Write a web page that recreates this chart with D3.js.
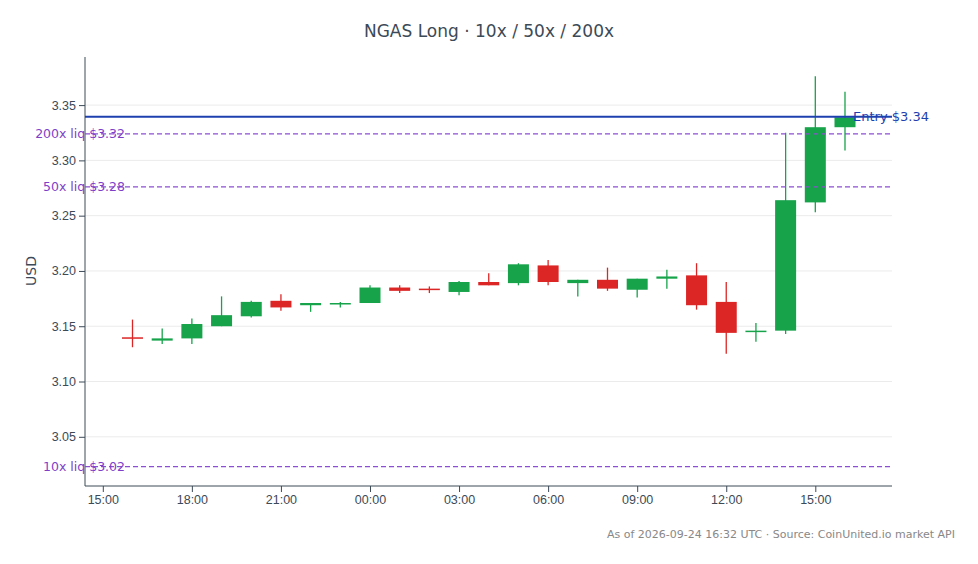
<!DOCTYPE html><html><head><meta charset="utf-8"><script src="https://cdn.jsdelivr.net/npm/d3@7"></script>
<style>body{margin:0;background:#fff;font-family:"DejaVu Sans",sans-serif}</style></head><body><svg id="c" width="978" height="564"></svg>
<script>
const hours=["16:00","17:00","18:00","19:00","20:00","21:00","22:00","23:00","00:00","01:00","02:00","03:00","04:00","05:00","06:00","07:00","08:00","09:00","10:00","11:00","12:00","13:00","14:00","15:00","16:00"];
const opens=[3.140,3.137,3.139,3.150,3.159,3.173,3.169,3.170,3.171,3.185,3.184,3.181,3.190,3.189,3.205,3.189,3.192,3.183,3.193,3.196,3.172,3.145,3.146,3.262,3.330];
const closes=[3.139,3.139,3.152,3.160,3.172,3.167,3.171,3.171,3.185,3.182,3.183,3.190,3.187,3.206,3.190,3.192,3.184,3.193,3.195,3.169,3.144,3.146,3.264,3.330,3.339];
const highs=[3.156,3.148,3.157,3.177,3.173,3.179,3.171,3.172,3.187,3.187,3.186,3.191,3.198,3.207,3.210,3.192,3.203,3.193,3.201,3.207,3.190,3.153,3.325,3.376,3.362];
const lows=[3.131,3.134,3.134,3.150,3.158,3.164,3.163,3.167,3.171,3.180,3.180,3.178,3.187,3.187,3.187,3.177,3.182,3.176,3.184,3.165,3.125,3.136,3.143,3.253,3.309];
const levels=[{label:"Entry $3.34",v:3.3395,kind:"entry"},{label:"200x liq $3.32",v:3.324,kind:"liq"},{label:"50x liq $3.28",v:3.276,kind:"liq"},{label:"10x liq $3.02",v:3.023,kind:"liq"}];
const yTicks=[3.05,3.10,3.15,3.20,3.25,3.30,3.35];
const xTickLabels=["15:00","18:00","21:00","00:00","03:00","06:00","09:00","12:00","15:00"];

const svg=d3.select("#c");
const L=85,R=892,T=57,B=486;
const t0=new Date(Date.UTC(2026,8,23,16));
const times=hours.map((h,i)=>new Date(t0.getTime()+i*3600e3));
const x=d3.scaleUtc().domain([new Date(Date.UTC(2026,8,23,14,24)),new Date(Date.UTC(2026,8,24,17,35))]).range([L,R]);
const y=d3.scaleLinear().domain([3.0055,3.3935]).range([B,T]);
svg.append("g").selectAll("line").data(yTicks).join("line").attr("x1",L).attr("x2",R).attr("y1",d=>y(d)).attr("y2",d=>y(d)).attr("stroke","#ebebeb");
const tickTimes=xTickLabels.map((s,i)=>new Date(Date.UTC(2026,8,23,15)+i*3*3600e3));
const xa=svg.append("g").attr("transform",`translate(0,${B})`).call(d3.axisBottom(x).tickValues(tickTimes).tickFormat((d,i)=>xTickLabels[i]).tickSizeOuter(0));
const ya=svg.append("g").attr("transform",`translate(${L},0)`).call(d3.axisLeft(y).tickValues(yTicks).tickFormat(d3.format(".2f")).tickSizeOuter(0));
[xa,ya].forEach(a=>{a.selectAll("path,line").attr("stroke","#3c4a57");a.selectAll("text").attr("fill","#3c4a57").attr("font-size",12.5);});
ya.select("path").attr("d",`M0,${T}V${B}`);
xa.select("path").attr("d",`M0,0H${R-L}`).attr("transform",`translate(${L},0)`);
const w=21;
const g=svg.append("g");
times.forEach((t,i)=>{const c=closes[i]>=opens[i]?"#16a34a":"#dc2626";const cx=x(t);
g.append("line").attr("x1",cx).attr("x2",cx).attr("y1",y(highs[i])).attr("y2",y(lows[i])).attr("stroke",c).attr("stroke-width",1.3);
const y1=y(Math.max(opens[i],closes[i])),y2=y(Math.min(opens[i],closes[i]));
g.append("rect").attr("x",cx-w/2).attr("width",w).attr("y",y1).attr("height",Math.max(1.5,y2-y1)).attr("fill",c);});
levels.forEach(l=>{const yy=y(l.v);
if(l.kind==="entry"){svg.append("line").attr("x1",L).attr("x2",R).attr("y1",yy).attr("y2",yy).attr("stroke","#1e40af").attr("stroke-width",2);
svg.append("text").attr("x",853).attr("y",yy+4).attr("fill","#1e40af").attr("font-size",13).text(l.label);}
else{svg.append("line").attr("x1",L).attr("x2",R).attr("y1",yy).attr("y2",yy).attr("stroke","#8b4fd1").attr("stroke-width",1.3).attr("stroke-dasharray","5,3");
svg.append("text").attr("x",125).attr("y",yy+4).attr("text-anchor","end").attr("fill","#7e3fc8").attr("font-size",12.5).text(l.label);}});
svg.append("text").attr("x",489).attr("y",37).attr("text-anchor","middle").attr("fill","#3c4a57").attr("font-size",17).text("NGAS Long · 10x / 50x / 200x");
svg.append("text").attr("transform","translate(36,271) rotate(-90)").attr("text-anchor","middle").attr("fill","#3c4a57").attr("font-size",14).text("USD");
svg.append("text").attr("x",955).attr("y",538).attr("text-anchor","end").attr("fill","#888").attr("font-size",11).text("As of 2026-09-24 16:32 UTC · Source: CoinUnited.io market API");
</script></body></html>
